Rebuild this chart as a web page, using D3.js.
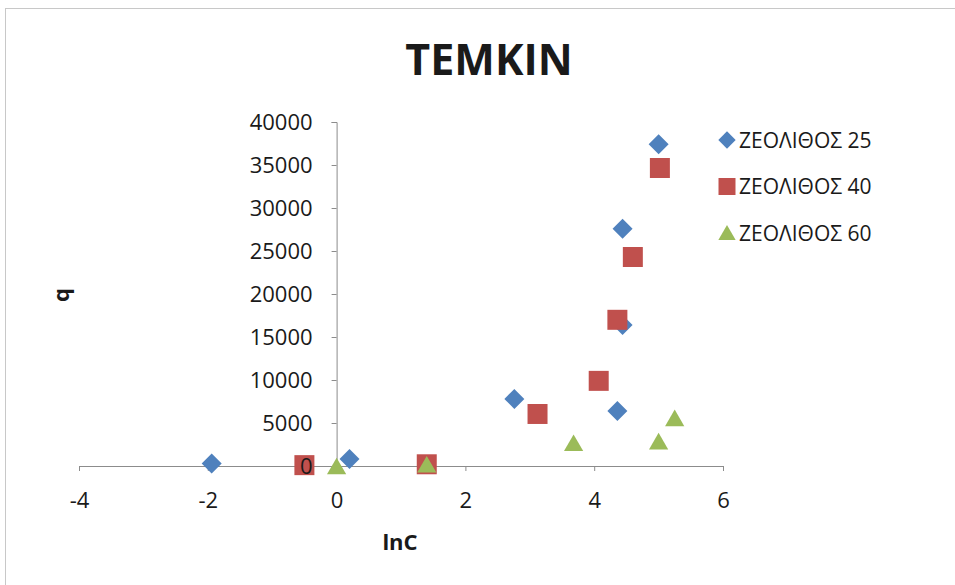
<!DOCTYPE html>
<html>
<head>
<meta charset="utf-8">
<script src="https://cdn.jsdelivr.net/npm/d3@7"></script>
<style>
  body { margin: 0; background: #fff; }
  svg text { font-family: "Open Sans", "DejaVu Sans", sans-serif; fill: #1a1a1a; }
</style>
</head>
<body>
<div id="chart"></div>
<script>
// series: [lnC, q]
const zeo25 = [[-1.94, 300], [0.2, 800], [2.76, 7800], [4.36, 6400], [4.44, 16400], [4.44, 27600], [5.0, 37400]];
const zeo40 = [[-0.5, 100], [1.4, 200], [3.12, 6050], [4.07, 9900], [4.36, 17000], [4.6, 24300], [5.02, 34650]];
const zeo60 = [[0.0, 0], [1.4, 200], [3.68, 2700], [5.0, 2900], [5.25, 5600]];
const seriesNames = ["ΖΕΟΛΙΘΟΣ 25", "ΖΕΟΛΙΘΟΣ 40", "ΖΕΟΛΙΘΟΣ 60"];
const xTicks = [-4, -2, 0, 2, 4, 6];
const yTicks = [0, 5000, 10000, 15000, 20000, 25000, 30000, 35000, 40000];

const width = 955, height = 585;
const svg = d3.select("#chart").append("svg")
  .attr("width", width)
  .attr("height", height);

// chart frame
svg.append("rect")
  .attr("x", 5.5).attr("y", 8.5)
  .attr("width", 980).attr("height", 620)
  .attr("fill", "none")
  .attr("stroke", "#c8c8c8");

const x = d3.scaleLinear().domain([-4, 6]).range([79, 723]);
const y = d3.scaleLinear().domain([0, 40000]).range([466, 122]);

const axisColor = "#8c8c8c";

// x axis
const xg = svg.append("g")
  .attr("transform", `translate(0,${y(0)})`)
  .call(d3.axisBottom(x).tickValues(xTicks).tickSize(5).tickPadding(21).tickFormat(d3.format("d")));
xg.select(".domain").attr("stroke", axisColor);
xg.selectAll(".tick line").attr("stroke", axisColor);
xg.selectAll(".tick text").style("font-size", "22px").attr("fill", "#1a1a1a")
  .text(d => d < 0 ? "-" + Math.abs(d) : d);

// y axis lines (labels drawn later, on top of markers)
const yg = svg.append("g")
  .attr("transform", `translate(${x(0)},0)`)
  .call(d3.axisLeft(y).tickValues(yTicks).tickSize(5).tickSizeOuter(5).tickFormat(""));
yg.select(".domain").attr("stroke", axisColor);
yg.selectAll(".tick line").attr("stroke", axisColor);

const colors = ["#4F81BD", "#C0504D", "#9BBB59"];
const diamond = d3.symbol().type(d3.symbolSquare).size(200);
const square = d3.symbol().type(d3.symbolSquare).size(400);
const triSize = 160;
const triangle = d3.symbol().type(d3.symbolTriangle).size(triSize);
// shift triangle so its bounding box is centered on the point
const triH = Math.sqrt(triSize * Math.sqrt(3));
const triShift = triH / 6;

svg.append("g").selectAll("path")
  .data(zeo25).enter().append("path")
  .attr("d", diamond())
  .attr("transform", d => `translate(${x(d[0])},${y(d[1])}) rotate(45)`)
  .attr("fill", colors[0]);

svg.append("g").selectAll("path")
  .data(zeo40).enter().append("path")
  .attr("d", square())
  .attr("transform", d => `translate(${x(d[0])},${y(d[1])})`)
  .attr("fill", colors[1]);

svg.append("g").selectAll("path")
  .data(zeo60).enter().append("path")
  .attr("d", triangle())
  .attr("transform", d => `translate(${x(d[0])},${y(d[1]) + triShift})`)
  .attr("fill", colors[2]);

// y tick labels
const yl = svg.append("g")
  .attr("transform", `translate(${x(0)},0)`)
  .call(d3.axisLeft(y).tickValues(yTicks).tickSize(0).tickPadding(24).tickFormat(d3.format("d")));
yl.select(".domain").remove();
yl.selectAll(".tick text").style("font-size", "22px").attr("fill", "#1a1a1a");

// title
svg.append("text")
  .attr("x", 489).attr("y", 75)
  .attr("text-anchor", "middle")
  .style("font-size", "43px").style("font-weight", "bold")
  .text("TEMKIN");

// axis titles
svg.append("text")
  .attr("x", 400).attr("y", 550)
  .attr("text-anchor", "middle")
  .style("font-size", "22px").style("font-weight", "bold")
  .text("lnC");

svg.append("text")
  .attr("transform", "translate(69,295) rotate(-90)")
  .attr("text-anchor", "middle")
  .style("font-size", "22px").style("font-weight", "bold")
  .text("q");

// legend
const legendShapes = [diamond, square, triangle];
const legend = svg.append("g");
seriesNames.forEach((name, i) => {
  const cy = 140 + i * 46.5;
  legend.append("path")
    .attr("d", i === 1 ? d3.symbol().type(d3.symbolSquare).size(289)() :
               i === 0 ? d3.symbol().type(d3.symbolSquare).size(150)() :
               d3.symbol().type(d3.symbolTriangle).size(130)())
    .attr("transform", i === 0 ? `translate(727,${cy}) rotate(45)` :
                       i === 2 ? `translate(727,${cy + 2})` : `translate(727,${cy})`)
    .attr("fill", colors[i]);
  legend.append("text")
    .attr("x", 739).attr("y", cy + 7.5)
    .style("font-size", "21px")
    .text(name);
});
</script>
</body>
</html>
